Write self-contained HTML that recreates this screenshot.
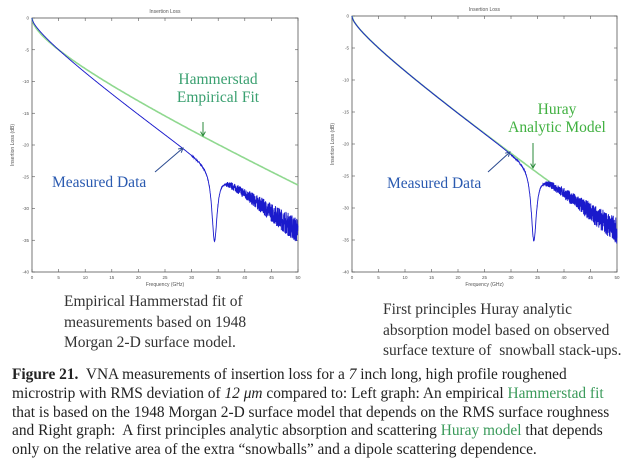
<!DOCTYPE html>
<html><head><meta charset="utf-8"><style>
body{margin:0;width:639px;height:462px;background:#fff;overflow:hidden;position:relative;font-family:"Liberation Serif",serif}
svg{position:absolute;left:0;top:0}
.cap{position:absolute;font-size:15.5px;color:#333;line-height:20.5px;white-space:nowrap}
.fig{position:absolute;left:12px;top:366px;font-size:15.4px;line-height:18.8px;color:#222;white-space:nowrap}
.g{color:#3a9a5a}
</style></head><body>
<svg id="s" width="639" height="462" font-family="Liberation Sans,sans-serif"></svg>
<div class="cap" style="left:64px;top:292px">Empirical Hammerstad fit of<br>measurements based on 1948<br>Morgan 2-D surface model.</div>
<div class="cap" style="left:383px;top:300px">First principles Huray analytic<br>absorption model based on observed<br>surface texture of &nbsp;snowball stack-ups.</div>
<div class="fig"><b>Figure 21.</b>&nbsp; VNA measurements of insertion loss for a <i>7</i> inch long, high profile roughened<br>microstrip with RMS deviation of <i>12 μm</i> compared to: Left graph: An empirical <span class="g">Hammerstad fit</span><br>that is based on the 1948 Morgan 2-D surface model that depends on the RMS surface roughness<br>and Right graph:&nbsp; A first principles analytic absorption and scattering <span class="g">Huray model</span> that depends<br>only on the relative area of the extra “snowballs” and a dipole scattering dependence.</div>
<script>
var s=document.getElementById('s'),h='';
var seed=7;function rnd(){seed=(seed*16807)%2147483647;return seed/2147483647;}
function base(x){return -(1.07*Math.sqrt(x)+0.52*x);}
function meas(x){var d=11/(1+Math.pow((x-34.3)/0.6,2));var y=base(x)-d;
 if(x>36.5){y+=(rnd()-0.5)*(0.8+ (x-36.5)*0.25);} else if(x>30){y+=(rnd()-0.5)*0.2;}
 return y;}
function plot(X0,X1,Y0,Y1,green,lbl){
 var sx=(X1-X0)/50,sy=(Y1-Y0)/40;
 h+='<rect x="'+X0+'" y="'+Y0+'" width="'+(X1-X0)+'" height="'+(Y1-Y0)+'" fill="#fff" stroke="#555" stroke-width="0.8"/>';
 for(var i=0;i<=10;i++){var x=X0+i*5*sx;h+='<line x1="'+x+'" y1="'+Y1+'" x2="'+x+'" y2="'+(Y1-3)+'" stroke="#555" stroke-width="0.6"/><line x1="'+x+'" y1="'+Y0+'" x2="'+x+'" y2="'+(Y0+3)+'" stroke="#555" stroke-width="0.6"/><text x="'+x+'" y="'+(Y1+7)+'" font-size="4.5" text-anchor="middle" fill="#555">'+(i*5)+'</text>';}
 for(var j=0;j<=8;j++){var y=Y0+j*5*sy;h+='<line x1="'+X0+'" y1="'+y+'" x2="'+(X0+3)+'" y2="'+y+'" stroke="#555" stroke-width="0.6"/><line x1="'+X1+'" y1="'+y+'" x2="'+(X1-3)+'" y2="'+y+'" stroke="#555" stroke-width="0.6"/><text x="'+(X0-3)+'" y="'+(y+1.5)+'" font-size="4.5" text-anchor="end" fill="#555">'+(j?-j*5:0)+'</text>';}
 h+='<text x="'+((X0+X1)/2)+'" y="'+(Y0-5)+'" font-size="5" text-anchor="middle" fill="#555">Insertion Loss</text>';
 h+='<text x="'+((X0+X1)/2)+'" y="'+(Y1+14)+'" font-size="5" text-anchor="middle" fill="#555">Frequency (GHz)</text>';
 h+='<text transform="translate('+(X0-18)+','+((Y0+Y1)/2)+') rotate(-90)" font-size="5" text-anchor="middle" fill="#555">Insertion Loss (dB)</text>';
 var p='',g='';
 for(var k=0;k<=2500;k++){var x=k*50/2500;var y=meas(x);p+=(k?'L':'M')+(X0+x*sx).toFixed(1)+' '+(Y0-y*sy).toFixed(1);}
 for(var k=0;k<=200;k++){var x=k*50/200,y;
  if(green==1){y=-(1.55*Math.sqrt(x)+0.307*x);}else{if(x>38)break;y=base(x);}
  g+=(k?'L':'M')+(X0+x*sx).toFixed(1)+' '+(Y0-y*sy).toFixed(1);}
 h+='<path d="'+g+'" fill="none" stroke="#8fd88f" stroke-width="1.6"/>';
 h+='<path d="'+p+'" fill="none" stroke="#1a1acc" stroke-width="0.9"/>';
}
plot(32,298,18,272,1);
plot(352,617,16,272,2);
function arrow(x1,y1,x2,y2,c){var a=Math.atan2(y2-y1,x2-x1),L=5;
 h+='<line x1="'+x1+'" y1="'+y1+'" x2="'+x2+'" y2="'+y2+'" stroke="'+c+'" stroke-width="1"/>';
 h+='<path d="M'+(x2-L*Math.cos(a-0.5))+' '+(y2-L*Math.sin(a-0.5))+'L'+x2+' '+y2+'L'+(x2-L*Math.cos(a+0.5))+' '+(y2-L*Math.sin(a+0.5))+'" fill="none" stroke="'+c+'" stroke-width="1"/>';}
var T='font-family="Liberation Serif,serif" font-size="15.5"';
h+='<text '+T+' x="218" y="84" text-anchor="middle" fill="#3aa070">Hammerstad</text>';
h+='<text '+T+' x="218" y="102" text-anchor="middle" fill="#3aa070">Empirical Fit</text>';
arrow(203,122,203,136,'#2a8a3a');
h+='<text '+T+' x="52" y="187" fill="#2a5ab0">Measured Data</text>';
arrow(155,172,183,148,'#2a4a90');
h+='<text '+T+' x="557" y="114" text-anchor="middle" fill="#40b040">Huray</text>';
h+='<text '+T+' x="557" y="132" text-anchor="middle" fill="#40b040">Analytic Model</text>';
arrow(533,143,533,168,'#2a8a3a');
h+='<text '+T+' x="387" y="188" fill="#2a5ab0">Measured Data</text>';
arrow(488,172,510,152,'#2a4a90');
s.innerHTML=h;
</script>
</body></html>
